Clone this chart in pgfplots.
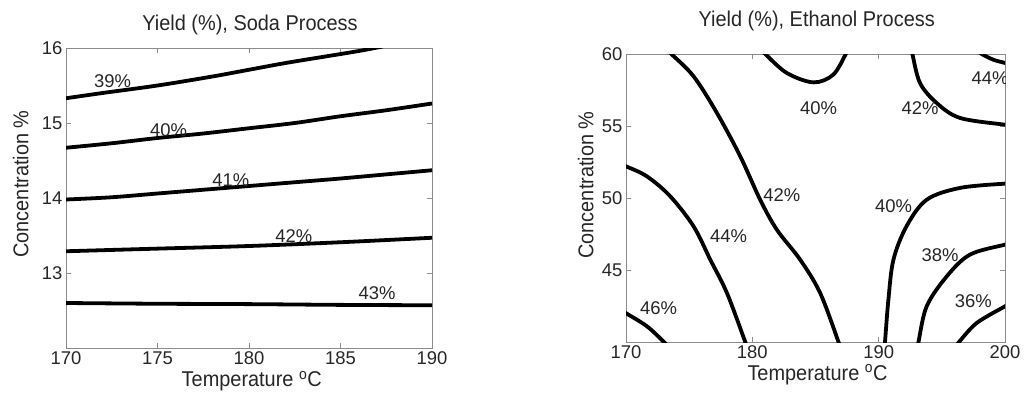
\documentclass[border=0pt]{standalone}
\usepackage{fontspec}
\setmainfont{Liberation Sans}
\newfontfamily\condfont[FakeStretch=0.93]{Liberation Sans}
\usepackage{pgfplots}
\pgfplotsset{compat=1.18}
\pgfplotsset{
  mystyle/.style={
    scale only axis,
    anchor=south west,
    axis line style={black!45, line width=0.8bp},
    every tick/.style={black!45, line width=0.8bp},
    major tick length=5bp,
    tick align=inside,
    tick pos=both,
    xticklabel pos=bottom,
    yticklabel pos=left,
    tick label style={font=\fontsize{18.5}{20}\selectfont, black!85},
    /pgf/number format/assume math mode=true,
    /pgf/number format/1000 sep={},
    clip=true,
  },
  contour/.style={black, line width=3.8bp, smooth, tension=0.55},
}
\tikzset{lab/.style={font=\fontsize{18.5}{20}\selectfont, black!85}}
\newcommand\bigtext{\condfont\fontsize{21.5}{24}\selectfont}
\begin{document}
\begin{tikzpicture}
% ---------- Left: Soda process ----------
\begin{axis}[mystyle,
  at={(66bp,-348bp)}, width=366bp, height=300bp,
  xmin=170, xmax=190, ymin=12, ymax=16,
  xtick={170,175,180,185,190}, ytick={13,14,15,16}]
\addplot[contour] coordinates {(170,15.33) (172,15.40) (175,15.50) (178,15.62) (180,15.71) (182,15.80) (184,15.88) (186,15.96) (187.3,16.02)};
\addplot[contour] coordinates {(170,14.67) (172.5,14.73) (175,14.80) (177.5,14.86) (180,14.93) (182.5,15.00) (185,15.09) (187.5,15.17) (190,15.26)};
\addplot[contour] coordinates {(170,13.98) (172.5,14.01) (175,14.06) (177.5,14.11) (180,14.16) (182.5,14.21) (185,14.26) (187.5,14.315) (190,14.37)};
\addplot[contour] coordinates {(170,13.29) (175,13.325) (180,13.36) (185,13.41) (190,13.47)};
\addplot[contour] coordinates {(170,12.60) (175,12.59) (180,12.585) (185,12.575) (190,12.57)};
\node[lab] at (axis cs:172.55,15.56) {39\%};
\node[lab] at (axis cs:175.6,14.91) {40\%};
\node[lab] at (axis cs:179.0,14.24) {41\%};
\node[lab] at (axis cs:182.45,13.49) {42\%};
\node[lab] at (axis cs:187.0,12.73) {43\%};
\end{axis}
% ---------- Right: Ethanol process ----------
\begin{axis}[mystyle,
  at={(626bp,-342bp)}, width=379bp, height=288bp,
  xmin=170, xmax=200, ymin=40, ymax=60,
  xtick={170,180,190,200}, ytick={45,50,55,60}]
% 46%
\addplot[contour] coordinates {(169.8,42.1) (170,42.0) (171.66,41.09) (173.0,40.0) (173.3,39.7)};
% 44% left
\addplot[contour] coordinates {(169.8,52.25) (170,52.2) (171.66,51.5) (173.5,50.12) (175.35,48.03) (176.67,45.72) (177.99,43.4) (179.44,40.0) (179.6,39.6)};
% 42% diagonal
\addplot[contour] coordinates {(173.4,60.2) (173.59,60) (175.35,58.45) (177.2,55.9) (179.04,52.9) (180.62,49.88) (181.94,47.8) (183.8,45.7) (185.37,43.4) (186.82,40) (186.9,39.7)};
% 40% top
\addplot[contour] coordinates {(180.8,60.2) (181.02,60) (182.73,58.68) (184.84,58.03) (186.4,58.56) (187.4,60) (187.5,60.2)};
% 40% right
\addplot[contour] coordinates {(190.45,39.7) (190.5,40) (190.77,42.94) (191.17,45.72) (192.2,48.03) (193.8,49.88) (196.44,50.7) (200,51.0) (200.2,51.0)};
% 38%
\addplot[contour] coordinates {(193.05,39.7) (193.15,40) (193.8,42.48) (195.39,44.56) (197.23,46.07) (200,46.76) (200.2,46.8)};
% 36%
\addplot[contour] coordinates {(196.2,39.8) (196.36,40) (197.76,41.32) (200,42.48) (200.2,42.6)};
% 42% top right
\addplot[contour] coordinates {(192.6,60.3) (192.67,60) (193.27,57.99) (194.59,56.6) (196.44,55.56) (200,55.09) (200.2,55.08)};
% 44% top right
\addplot[contour] coordinates {(197.7,60.3) (198.15,60) (199.08,59.6) (200,59.38) (200.2,59.35)};
\node[lab] at (axis cs:198.81,58.33) {44\%};
\node[lab] at (axis cs:185.24,56.25) {40\%};
\node[lab] at (axis cs:193.27,56.25) {42\%};
\node[lab] at (axis cs:182.34,50.23) {42\%};
\node[lab] at (axis cs:191.17,49.42) {40\%};
\node[lab] at (axis cs:178.12,47.34) {44\%};
\node[lab] at (axis cs:194.86,46.06) {38\%};
\node[lab] at (axis cs:197.49,42.82) {36\%};
\node[lab] at (axis cs:172.58,42.36) {46\%};
\end{axis}
% ---------- titles and labels ----------
\node[anchor=base, inner sep=0pt, black!85] at (250bp,-30.7bp) {\bigtext Yield (\%), Soda Process};
\node[anchor=base, inner sep=0pt, black!85] at (816.7bp,-26bp) {\bigtext Yield (\%), Ethanol Process};
\node[anchor=base, inner sep=0pt, black!85] at (251.7bp,-386.7bp) {\bigtext Temperature \textsuperscript{o}C};
\node[anchor=base, inner sep=0pt, black!85] at (817.5bp,-380bp) {\bigtext Temperature \textsuperscript{o}C};
\node[anchor=base, inner sep=0pt, rotate=90, black!85] at (28.3bp,-184bp) {\bigtext Concentration \%};
\node[anchor=base, inner sep=0pt, rotate=90, black!85] at (593.3bp,-185bp) {\bigtext Concentration \%};
\pgfresetboundingbox
\path (0,0) rectangle (1026bp,-400bp);
\end{tikzpicture}
\end{document}
